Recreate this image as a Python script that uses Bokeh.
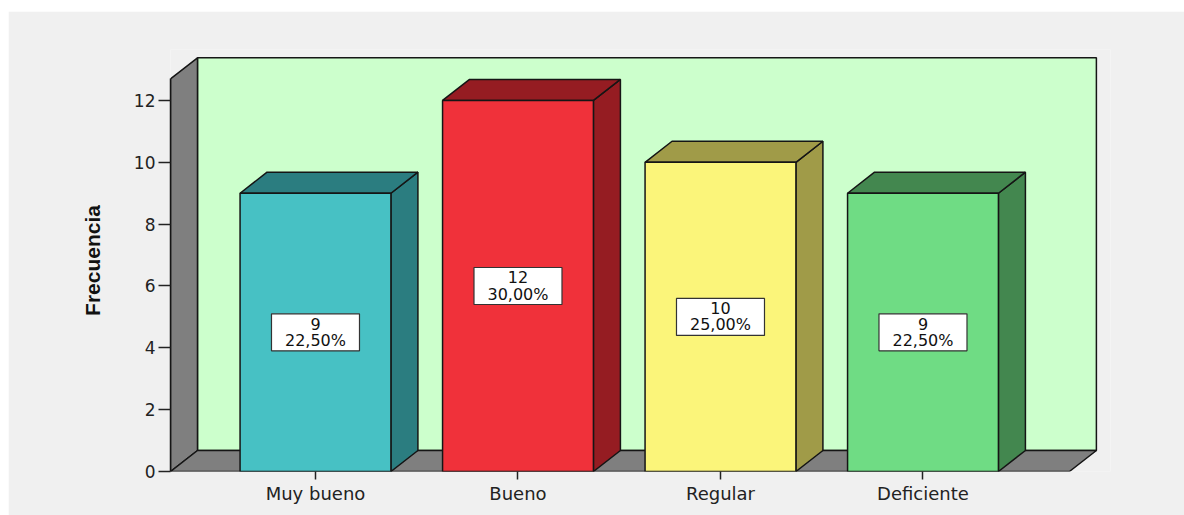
from bokeh.plotting import figure
from bokeh.models import ColumnDataSource, FixedTicker, Range1d
from bokeh.embed import file_html
from bokeh.resources import INLINE
from bokeh.core.properties import value

# ---- data ----
categories = ["Muy bueno", "Bueno", "Regular", "Deficiente"]
counts = [9, 12, 10, 9]
pct_labels = ["22,50%", "30,00%", "25,00%", "22,50%"]
y_ticks = [0, 2, 4, 6, 8, 10, 12]

# ---- styles ----
front_colors = ["#47c1c4", "#f0313a", "#fbf57a", "#6fdc84"]
side_colors = ["#2b7d80", "#951c22", "#a09b48", "#43874f"]
wall_color = "#7f7f7f"
back_color = "#ccffcc"
edge = "#151515"
bg = "#f0f0f0"

# geometry (data units)
X0, X1 = -0.716, 3.723      # floor front left/right
DX, DY = 0.1333, 0.68       # depth offset
WALL_TOP = 12.7
BAR_W = 0.745

W, H = 1176, 504
p = figure(width=W, height=H, output_backend="svg", toolbar_location=None,
           x_range=Range1d(-0.716, -0.716 + 940 / 202.5),
           y_range=Range1d(0, 422 / 30.92),
           min_border_left=162, min_border_right=74,
           min_border_top=38, min_border_bottom=44)
p.margin = (11, 0, 0, 8)
p.background_fill_color = bg
p.border_fill_color = bg
p.outline_line_color = None
p.grid.visible = False

# walls
p.patch([X0 + DX, X1 + DX, X1 + DX, X0 + DX], [DY, DY, WALL_TOP + DY, WALL_TOP + DY],
        fill_color=back_color, line_color=edge, line_width=1.5)
p.patch([X0, X0, X0 + DX, X0 + DX], [0, WALL_TOP, WALL_TOP + DY, DY],
        fill_color=wall_color, line_color=edge, line_width=1.5)
p.patch([X0, X0 + DX, X1 + DX, X1], [0, DY, DY, 0],
        fill_color=wall_color, line_color=edge, line_width=1.5)

# bars
xs_front, ys_front, xs_top, ys_top, xs_side, ys_side = [], [], [], [], [], []
for i, v in enumerate(counts):
    l, r = i - BAR_W / 2, i + BAR_W / 2
    xs_front.append([l, r, r, l]); ys_front.append([0, 0, v, v])
    xs_top.append([l, l + DX, r + DX, r]); ys_top.append([v, v + DY, v + DY, v])
    xs_side.append([r, r, r + DX, r + DX]); ys_side.append([0, v, v + DY, DY])

src = ColumnDataSource(dict(xf=xs_front, yf=ys_front, xt=xs_top, yt=ys_top,
                            xsd=xs_side, ysd=ys_side, fc=front_colors, sc=side_colors))
p.patches("xsd", "ysd", source=src, fill_color="sc", line_color=edge, line_width=1.5)
p.patches("xt", "yt", source=src, fill_color="sc", line_color=edge, line_width=1.5)
p.patches("xf", "yf", source=src, fill_color="fc", line_color=edge, line_width=1.5)

# value labels
lab = ColumnDataSource(dict(x=list(range(len(categories))),
                            y=[c / 2 for c in counts],
                            t=[f"{c}\n{pl}" for c, pl in zip(counts, pct_labels)]))
p.rect("x", "y", width=88, height=37, width_units="screen", height_units="screen",
       source=lab, fill_color="white", line_color="#333333", line_width=1.2)
p.text("x", "y", text="t", source=lab, text_align="center", text_baseline="middle",
       text_font=value("DejaVu Sans"), text_font_size="16px", text_line_height=0.85,
       text_color="#111111")

# axes
p.yaxis.ticker = FixedTicker(ticks=y_ticks)
p.yaxis.bounds = (0, WALL_TOP)
p.yaxis.axis_line_color = edge
p.yaxis.axis_line_width = 1.5
p.yaxis.major_tick_out = 12
p.yaxis.major_tick_in = 0
p.yaxis.minor_tick_line_color = None
p.yaxis.major_tick_line_color = "#222222"
p.yaxis.major_tick_line_width = 1.5
p.yaxis.major_label_standoff = 3
p.yaxis.major_label_text_font = "DejaVu Sans"
p.yaxis.major_label_text_font_size = "17px"
p.yaxis.major_label_text_color = "#222222"
p.yaxis.axis_label = "Frecuencia"
p.yaxis.axis_label_text_font = "Liberation Sans"
p.yaxis.axis_label_text_font_style = "bold"
p.yaxis.axis_label_text_font_size = "21px"
p.yaxis.axis_label_text_color = "#111111"
p.yaxis.axis_label_standoff = 27

p.xaxis.ticker = FixedTicker(ticks=list(range(len(categories))))
p.xaxis.major_label_overrides = {i: c for i, c in enumerate(categories)}
p.xaxis.axis_line_color = None
p.xaxis.major_tick_out = 8
p.xaxis.major_tick_in = 0
p.xaxis.major_tick_line_color = "#222222"
p.xaxis.major_tick_line_width = 1.5
p.xaxis.minor_tick_line_color = None
p.xaxis.major_label_standoff = 3
p.xaxis.major_label_text_font = "DejaVu Sans"
p.xaxis.major_label_text_font_size = "18px"
p.xaxis.major_label_text_color = "#222222"

open("out.html", "w").write(file_html(p, INLINE))
